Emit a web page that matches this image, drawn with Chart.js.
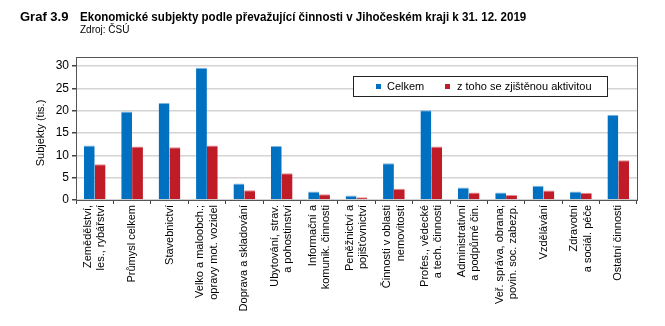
<!DOCTYPE html>
<html>
<head>
<meta charset="utf-8">
<script src="https://cdn.jsdelivr.net/npm/chart.js@4"></script>
<style>
  body { margin: 0; background: #fff; }
  #wrap { position: relative; width: 665px; height: 326px; }
  #graf { position: absolute; left: 20px; top: 9px; font: bold 13px "Liberation Sans", Arial, sans-serif; color: #000; }
  #nadpis { position: absolute; left: 80px; top: 9px; font: bold 13px "Liberation Sans", Arial, sans-serif; color: #000; white-space: nowrap; transform: scaleX(0.89); transform-origin: left top; }
  #zdroj { position: absolute; left: 80px; top: 24px; font: 10px "Liberation Sans", Arial, sans-serif; color: #000; }
  canvas { position: absolute; left: 0; top: 0; }
</style>
</head>
<body>
<div id="wrap">
  <canvas id="myChart" width="665" height="326"></canvas>
  <div id="graf">Graf 3.9</div>
  <div id="nadpis">Ekonomické subjekty podle převažující činnosti v Jihočeském kraji k 31. 12. 2019</div>
  <div id="zdroj">Zdroj: ČSÚ</div>
</div>
<script>
// categories (multi-line labels)
var kategorie = [
  ["Zemědělství,", "les., rybářství"],
  ["Průmysl celkem"],
  ["Stavebnictví"],
  ["Velko a maloobch.;", "opravy mot. vozidel"],
  ["Doprava a skladování"],
  ["Ubytování, strav.", "a pohostinství"],
  ["Informační a", "komunik. činnosti"],
  ["Peněžnictví a", "pojišťovnictví"],
  ["Činnosti v oblasti", "nemovitostí"],
  ["Profes., vědecké", "a tech. činnosti"],
  ["Administrativní", "a podpůrné čin."],
  ["Veř. správa, obrana;", "povin. soc. zabezp."],
  ["Vzdělávání"],
  ["Zdravotní", "a sociál. péče"],
  ["Ostatní činnosti"]
];
// values in thousands
var celkem = [12.2, 19.8, 21.7, 29.6, 3.7, 12.1, 1.9, 1.0, 8.2, 20.1, 2.8, 1.7, 3.2, 1.9, 19.1];
var aktivni = [8.0, 12.0, 11.8, 12.2, 2.2, 6.0, 1.3, 0.6, 2.5, 12.0, 1.7, 1.1, 2.1, 1.6, 8.9];
var yTicks = [0, 5, 10, 15, 20, 25, 30];

var FONT = '"Liberation Sans", Arial, sans-serif';
var LINE_H = 11 * 1.2;

// center the multi-line x labels on their tick
var stredPopisku = {
  id: 'stredPopisku',
  beforeDraw: function(chart) {
    var items = chart.scales.x.getLabelItems();
    if (items._posunuto) return;
    items.forEach(function(it) {
      var n = Array.isArray(it.label) ? it.label.length : 1;
      it.textOffset -= (n - 1) * LINE_H / 2;
    });
    items._posunuto = true;
  }
};

// frame around plot + legend box inside the plot
var ramecek = {
  id: 'ramecek',
  afterDraw: function(chart) {
    var ctx = chart.ctx, a = chart.chartArea;
    ctx.save();
    ctx.strokeStyle = '#555';
    ctx.lineWidth = 1;
    ctx.strokeRect(Math.round(a.left) + 0.5, 57.5, Math.round(a.right - a.left), Math.round(a.bottom) - 57);

    // legend
    ctx.fillStyle = '#fff';
    ctx.fillRect(353.5, 76.5, 254, 20);
    ctx.strokeStyle = '#222';
    ctx.strokeRect(353.5, 76.5, 254, 20);
    var pos = [[376, 387], [445, 457]];
    ctx.font = '11px ' + FONT;
    ctx.textBaseline = 'middle';
    chart.data.datasets.forEach(function(ds, i) {
      ctx.fillStyle = ds.backgroundColor;
      ctx.fillRect(pos[i][0], 84, 5, 5);
      ctx.fillStyle = '#000';
      ctx.fillText(ds.label, pos[i][1], 87);
    });
    ctx.restore();
  }
};

var ctx = document.getElementById('myChart').getContext('2d');
var chart = new Chart(ctx, {
  type: 'bar',
  data: {
    labels: kategorie,
    datasets: [{
      label: 'Celkem',
      data: celkem,
      backgroundColor: '#0070C0',
      borderColor: '#7fb6e0',
      borderWidth: {top: 1, right: 0, left: 0, bottom: 0},
      borderSkipped: false,
      barPercentage: 1.0,
      categoryPercentage: 0.58
    }, {
      label: 'z toho se zjištěnou aktivitou',
      data: aktivni,
      backgroundColor: '#C01C27',
      borderColor: '#e08a90',
      borderWidth: {top: 1, right: 0, left: 0, bottom: 0},
      borderSkipped: false,
      barPercentage: 1.0,
      categoryPercentage: 0.58
    }]
  },
  options: {
    responsive: false,
    animation: false,
    layout: { padding: { top: 66, left: 34, right: 28, bottom: 0 } },
    plugins: {
      legend: { display: false },
      tooltip: { enabled: false }
    },
    scales: {
      x: {
        afterFit: function(s) { s.height = 126; },
        border: { color: '#444' },
        grid: { drawOnChartArea: false, drawTicks: true, tickLength: 4, tickColor: '#444', offset: true },
        ticks: {
          minRotation: 90, maxRotation: 90, autoSkip: false, padding: 1,
          color: '#000', font: { family: FONT, size: 11, lineHeight: 1.2 }
        }
      },
      y: {
        min: 0, max: 30,
        afterFit: function(s) { s.width = 42; },
        afterBuildTicks: function(s) { s.ticks = yTicks.map(function(v) { return {value: v}; }); },
        border: { color: '#444' },
        grid: { color: '#d4d4d4', lineWidth: 1.5, tickLength: 4, tickColor: '#444' },
        ticks: { color: '#000', padding: 3, font: { family: FONT, size: 12 } },
        title: { display: true, text: 'Subjekty (tis.)', color: '#000', padding: 0, font: { family: FONT, size: 11 } }
      }
    }
  },
  plugins: [stredPopisku, ramecek]
});
</script>
</body>
</html>
